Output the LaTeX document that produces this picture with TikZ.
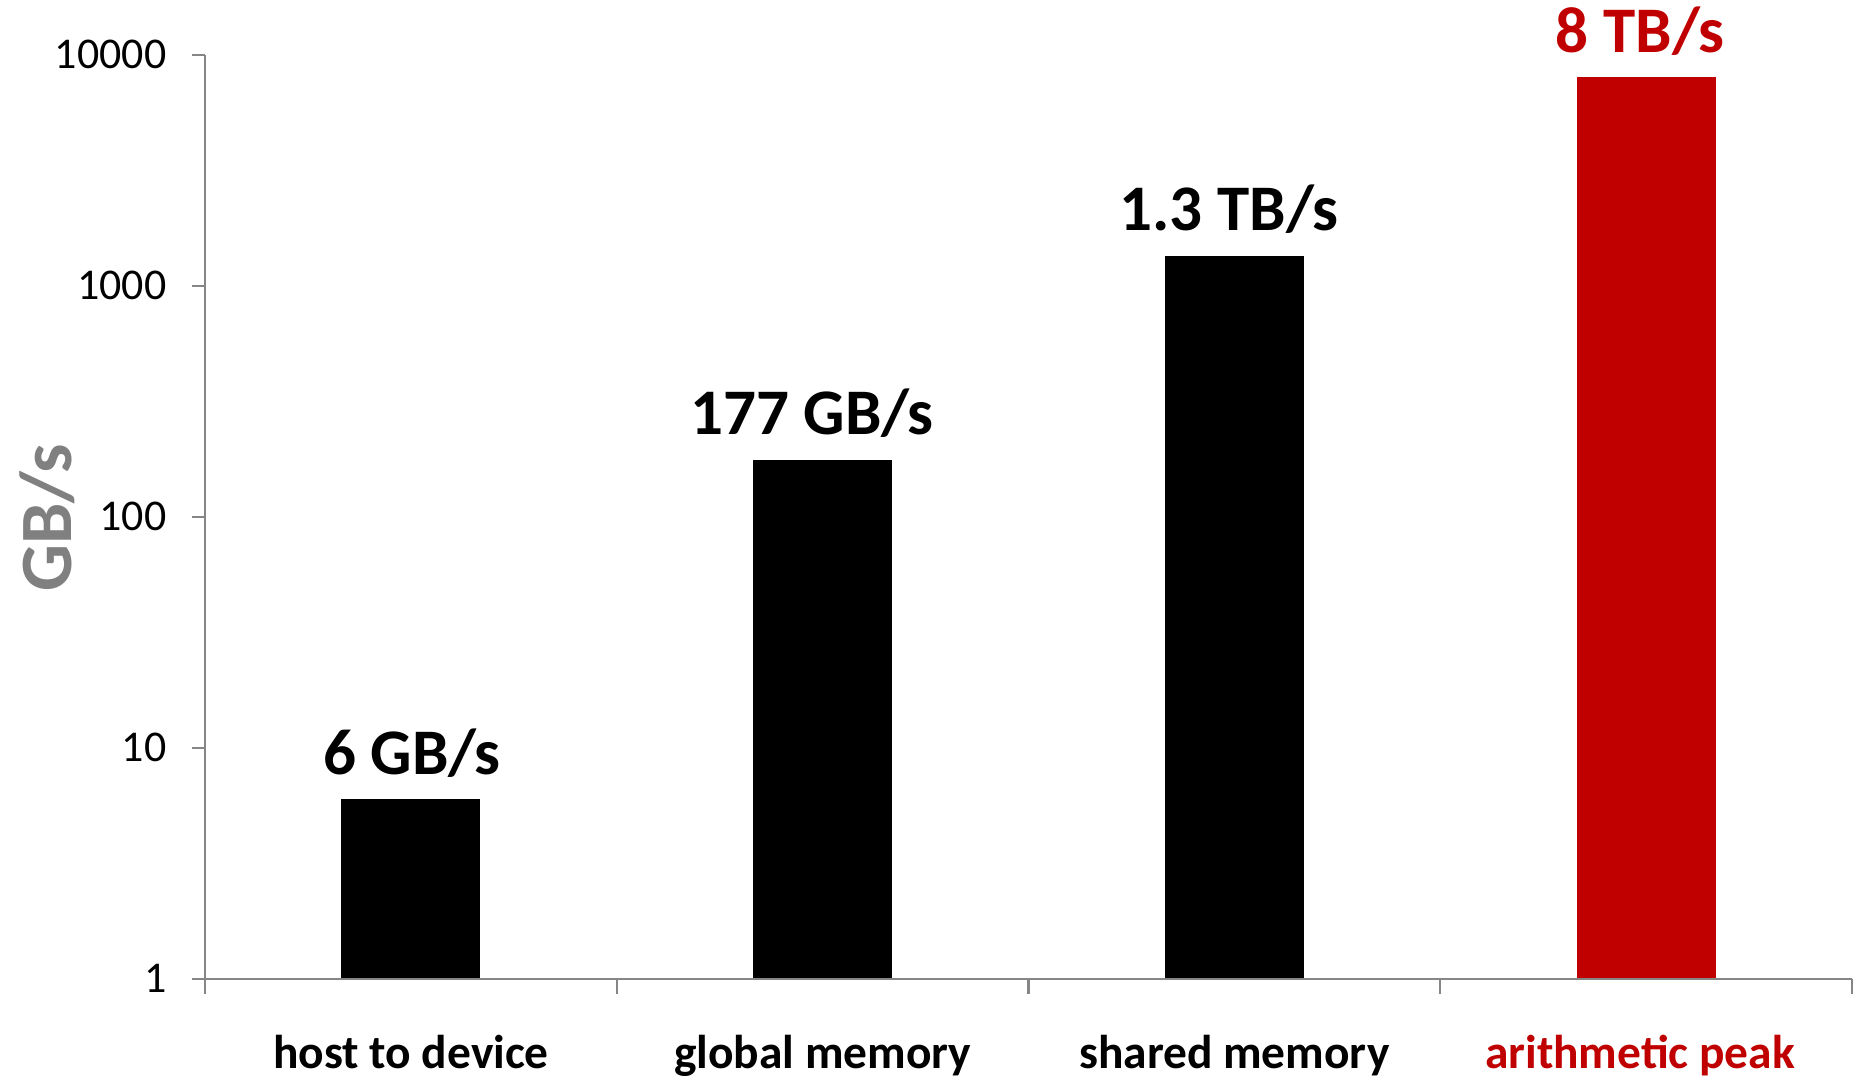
\documentclass[tikz,border=0pt]{standalone}
\usepackage{fontspec}
\setmainfont{Carlito}
\usetikzlibrary{positioning,calc}
\definecolor{cpico}{HTML}{C00000}
\definecolor{ceje}{HTML}{868686}
\definecolor{ctitulo}{HTML}{808080}
\tikzset{
  eje/.style={draw=ceje,line width=0.6pt},
  barra/.style={fill=black},
  barrap/.style={fill=cpico},
  valor/.style={font=\fontsize{18.5}{20}\selectfont\bfseries,anchor=base,inner sep=0pt},
  marca/.style={font=\fontsize{12.5}{14}\selectfont,anchor=east,inner sep=0pt},
  categ/.style={font=\fontsize{13.5}{15}\selectfont\bfseries,anchor=base,inner sep=0pt},
  titeje/.style={font=\fontsize{21}{23}\selectfont\bfseries,text=ctitulo,rotate=90,inner sep=0pt},
}

\begin{document}
\begin{tikzpicture}[x=1cm,y=1cm]
\useasboundingbox (0,0) rectangle (18.58,10.77);

% origen del eje (valor 1) y altura de una decada
\coordinate (o) at (2.05,0.982);
\def\dec{2.31}

% barras, y = log10(valor)
\fill[barra]  ($(o)+(1.364,0)$)  rectangle ++(1.39,{\dec*log10(6)});
\fill[barra]  ($(o)+(5.481,0)$)  rectangle ++(1.39,{\dec*log10(177)});
\fill[barra]  ($(o)+(9.599,0)$)  rectangle ++(1.39,{\dec*log10(1350)});
\fill[barrap] ($(o)+(13.716,0)$) rectangle ++(1.39,{\dec*log10(8000)});

% ejes
\draw[eje] (o) -- ++(0,4*\dec) coordinate (ytop);
\draw[eje] ($(o)+(-0.13,0)$) -- ++(16.60,0) coordinate (xfin);
\foreach \e/\t in {0/1,1/10,2/100,3/1000,4/10000}{
  \draw[eje] ($(o)+(-0.13,\e*\dec)$) -- ++(0.13,0);
  \node[marca] (m\t) at ($(o)+(-0.38,\e*\dec)$) {\t};
}
\foreach \k in {0,1,2,3,4}
  \draw[eje] ($(o)+(\k*4.1175,0)$) -- ++(0,-0.15);

% valores
\node[valor] (v1) at ($(o)+(2.07,{\dec*log10(6)+0.25})$)    {6 GB/s};
\node[valor] (v2) at ($(o)+(6.07,{\dec*log10(177)+0.25})$)  {177 GB/s};
\node[valor] (v3) at ($(o)+(10.24,{\dec*log10(1350)+0.25})$) {1.3 TB/s};
\node[valor,text=cpico] (v4) at ($(o)+(14.35,{\dec*log10(8000)+0.25})$) {8 TB/s};

% categorias
\node[categ] (c1) at (4.109,0.08)  {host to device};
\node[categ] (c2) at (8.226,0.08)  {global memory};
\node[categ] (c3) at (12.344,0.08) {shared memory};
\node[categ,text=cpico] (c4) at (16.40,0.08) {arithmetic peak};

\node[titeje] (tit) at (0.47,5.59) {GB/s};

\end{tikzpicture}
\end{document}
